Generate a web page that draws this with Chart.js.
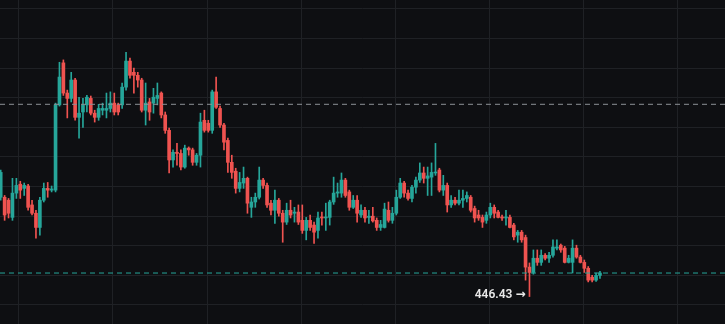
<!DOCTYPE html>
<html><head><meta charset="utf-8">
<script src="https://cdn.jsdelivr.net/npm/chart.js@4/dist/chart.umd.min.js"></script>
<style>html,body{margin:0;padding:0;background:#0e0f12;overflow:hidden}#wrap{width:725px;height:324px}</style>
</head><body><div id="wrap"><canvas id="c" width="725" height="324"></canvas></div>
<script>
const opens=[463.2,463.2,462.7,459.8,463.9,465.4,464.7,465.1,461.9,460.5,
458.1,462.7,464.7,464.4,464.4,478.8,485.9,480.8,479.9,483.0,
476.7,477.6,478.8,479.9,477.4,476.7,477.9,477.9,478.2,479.1,
478.8,478.8,481.8,486.2,484.3,483.8,483.0,477.9,479.3,479.1,
479.9,480.8,477.1,474.5,469.5,470.8,470.6,468.3,471.5,471.2,
469.1,470.3,476.2,475.7,474.5,481.0,478.2,475.4,472.8,469.1,
467.6,464.7,465.6,466.4,461.5,462.4,463.2,466.1,465.2,462.2,
461.0,462.7,460.5,459.0,461.0,460.5,460.7,459.3,457.6,459.3,
458.5,457.6,459.8,459.7,459.8,462.4,463.9,463.9,466.1,464.1,
461.5,462.7,460.2,461.0,459.8,460.0,459.3,458.1,458.1,461.0,
459.3,460.5,463.2,465.6,463.9,463.0,464.9,466.1,467.3,466.4,
466.6,467.3,467.8,464.4,465.2,461.9,462.7,462.2,462.7,463.0,
463.2,461.3,460.2,459.8,459.3,460.2,461.5,460.7,459.8,459.7,
459.8,458.5,456.8,457.3,456.4,451.4,450.5,452.9,452.2,453.4,
452.9,453.4,454.6,455.1,454.6,452.2,452.2,454.6,453.1,452.2,
451.2,449.7,449.2,450.0];
const highs=[467.8,463.5,463.0,466.4,466.4,465.9,465.6,465.4,462.7,461.0,
463.2,465.6,465.7,465.1,479.1,486.0,486.4,481.3,484.3,483.3,
480.1,479.9,480.4,480.3,477.9,478.9,479.1,480.8,481.0,480.8,
479.1,482.5,487.7,486.7,485.0,484.3,483.3,482.5,479.9,481.6,
482.5,481.0,477.6,474.9,471.2,472.3,471.2,472.0,471.7,471.5,
470.6,477.4,477.9,476.2,481.3,483.5,478.6,475.7,473.2,470.3,
468.1,467.4,468.3,466.6,463.2,463.9,468.3,466.4,465.6,462.7,
464.4,463.0,461.0,462.2,462.7,461.5,461.9,461.9,459.8,460.2,
459.0,460.7,460.7,462.2,462.7,466.6,465.6,467.3,466.4,464.4,
463.5,463.5,461.9,461.5,461.0,461.5,459.7,459.3,462.2,462.4,
461.5,464.4,466.4,465.9,464.4,465.2,466.6,469.0,468.3,468.3,
469.0,472.3,468.1,466.9,465.6,463.5,463.2,464.4,464.4,464.1,
463.5,461.7,461.0,460.2,460.7,462.2,461.9,461.0,460.2,461.0,
460.2,458.8,457.6,457.6,456.8,452.1,454.3,454.3,454.3,453.7,
453.9,456.0,456.0,455.3,454.9,453.4,456.0,455.1,453.4,452.6,
451.5,450.0,450.4,450.7];
const lows=[462.7,459.3,459.7,459.3,463.0,463.0,463.5,461.0,460.2,456.3,
456.8,462.4,463.2,464.1,464.1,478.6,480.4,476.6,479.3,476.2,
473.2,475.0,477.6,477.1,475.9,476.2,477.1,476.6,477.6,477.1,
477.1,478.2,481.3,483.3,480.8,481.8,477.6,475.4,476.2,477.4,
478.8,476.6,474.0,467.3,468.3,468.6,467.8,468.1,470.3,468.6,
468.6,468.3,474.2,474.2,474.0,478.2,475.0,471.2,467.4,466.4,
463.9,464.1,464.7,460.5,459.8,461.5,462.9,464.7,461.5,460.2,
458.8,460.0,455.6,458.6,459.7,459.0,458.6,457.1,456.0,457.6,
455.4,456.3,458.5,457.6,458.5,462.0,463.2,463.2,463.2,461.0,
461.3,459.0,459.8,459.0,458.8,459.0,457.6,457.6,458.0,459.0,
458.8,460.2,463.0,463.2,462.7,462.4,463.9,465.7,465.6,463.5,
463.5,466.9,464.1,463.5,460.7,461.5,461.9,461.9,461.5,462.4,
460.7,459.0,459.3,458.1,458.8,459.7,459.7,459.7,459.3,458.5,
458.0,456.0,455.6,455.6,449.2,446.43,450.2,451.7,451.7,452.6,
452.2,453.1,454.3,453.9,452.1,452.1,450.4,452.9,452.1,450.5,
448.9,448.9,449.0,449.5];
const closes=[467.4,460.2,460.5,463.9,465.2,464.4,465.2,461.5,460.5,458.1,
462.7,464.7,464.4,464.6,478.8,483.5,480.8,479.9,483.0,476.7,
477.4,478.8,480.1,477.4,476.7,478.2,478.2,478.2,479.1,477.6,
477.6,481.8,486.2,483.8,483.8,483.0,477.9,479.1,477.6,480.1,
480.4,477.1,474.5,469.5,470.8,470.6,468.3,471.5,471.2,469.1,
470.3,475.9,474.5,474.5,481.0,478.4,475.4,472.5,469.1,467.4,
464.7,465.7,466.4,462.2,462.4,463.2,466.1,465.2,461.9,461.0,
462.7,460.5,459.0,461.0,460.2,460.7,459.0,457.6,459.3,458.1,
457.3,459.7,459.7,459.8,462.4,463.9,464.1,466.1,463.5,461.5,
462.7,460.5,461.0,459.7,460.0,459.2,458.1,458.6,461.2,459.3,
460.5,463.2,465.6,463.9,463.0,464.9,466.1,467.3,466.4,466.8,
467.4,467.4,464.4,465.2,461.9,462.7,462.2,462.7,463.0,463.5,
461.0,459.7,459.7,459.0,460.2,461.5,460.5,459.8,459.7,459.8,
458.1,456.5,457.3,456.0,451.4,450.5,452.9,452.2,453.4,452.9,
453.4,454.8,454.8,454.3,452.2,452.9,454.6,453.1,452.2,451.2,
449.2,449.2,450.0,450.4];
const refLevel=478.9;
const yGridValues=[445,450,455,460,465,470,475,480,485,490,495];
const xGridValues=[4.67,28.67,52.67,76.67,100.67,124.67,148.67,172.67];
const xMin=-0.18, xMax=184.92, yMin=441.79, yMax=496.52;

const UP='#26a69a', DOWN='#ef5350';
const cols=opens.map((o,i)=>closes[i]>=o?UP:DOWN);
const lastClose=closes[closes.length-1];
const minIdx=lows.indexOf(Math.min(...lows));

const lowLabel={id:'lowLabel',afterDatasetsDraw(ch){
  const c=ch.ctx, xs=ch.scales.x, ys=ch.scales.y;
  const px=xs.getPixelForValue(minIdx), py=ys.getPixelForValue(lows[minIdx]);
  c.save();c.font='600 12px Roboto, "DejaVu Sans", sans-serif';c.fillStyle='#e8e8e8';
  c.textAlign='right';c.textBaseline='middle';
  c.fillText(lows[minIdx].toFixed(2)+' \u2192',px-4,py-2);c.restore();
}};
const fitZero=s=>{if(s.isHorizontal())s.height=0;else s.width=0;};
new Chart(document.getElementById('c'),{
  type:'bar',
  data:{datasets:[
    {type:'line',data:[{x:xMin,y:refLevel},{x:xMax,y:refLevel}],borderColor:'#8d9096',borderWidth:1,borderDash:[5,4],pointRadius:0,order:0},
    {type:'line',data:[{x:xMin,y:lastClose},{x:xMax,y:lastClose}],borderColor:UP,borderWidth:1,borderDash:[5,4],pointRadius:0,order:0},
    {data:opens.map((o,i)=>({x:i,y:[o,closes[i]]})),backgroundColor:cols,barThickness:3,minBarLength:1,grouped:false,order:1},
    {data:lows.map((l,i)=>({x:i,y:[l,highs[i]]})),backgroundColor:cols,barThickness:1,grouped:false,order:2}
  ]},
  options:{responsive:false,animation:false,devicePixelRatio:1,
    layout:{padding:0},
    plugins:{legend:{display:false},tooltip:{enabled:false}},
    scales:{
      x:{type:'linear',min:xMin,max:xMax,offset:false,grid:{color:'#1f2125',drawTicks:false,offset:false},ticks:{display:false},border:{display:false},
        afterBuildTicks:s=>{s.ticks=xGridValues.map(v=>({value:v}));},afterFit:fitZero},
      y:{type:'linear',min:yMin,max:yMax,grid:{color:'#1f2125',drawTicks:false},ticks:{display:false},border:{display:false},
        afterBuildTicks:s=>{s.ticks=yGridValues.map(v=>({value:v}));},afterFit:fitZero}
    }},
  plugins:[lowLabel,{id:'bg',beforeDraw(ch){const c=ch.ctx;c.save();c.fillStyle='#0e0f12';c.fillRect(0,0,ch.width,ch.height);c.restore();}}]
});
</script></body></html>
